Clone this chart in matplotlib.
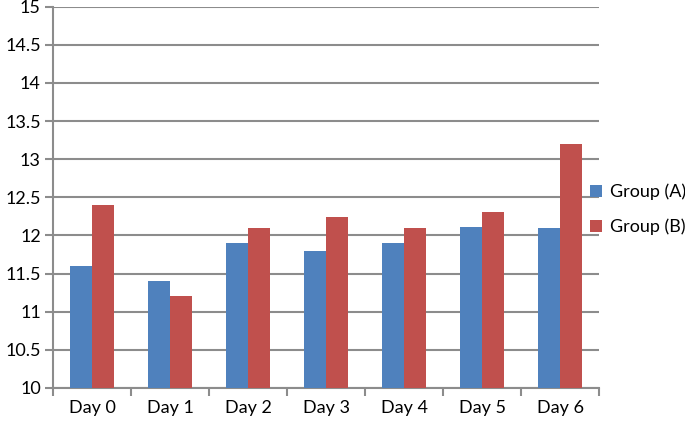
import numpy as np
import matplotlib.pyplot as plt

days = ["Day 0", "Day 1", "Day 2", "Day 3", "Day 4", "Day 5", "Day 6"]
group_a = [11.6, 11.4, 11.9, 11.8, 11.9, 12.11, 12.1]
group_b = [12.4, 11.2, 12.1, 12.24, 12.1, 12.31, 13.2]
y_ticks = [10, 10.5, 11, 11.5, 12, 12.5, 13, 13.5, 14, 14.5, 15]
y_tick_labels = ["10", "10.5", "11", "11.5", "12", "12.5", "13", "13.5", "14", "14.5", "15"]

plt.rcParams['font.family'] = ['Lato', 'DejaVu Sans']

fig = plt.figure(figsize=(6.85, 4.3), dpi=100)
ax = fig.add_axes([0.0778, 0.0977, 0.7967, 0.8867])

x = np.arange(len(days))
w = 0.285
ax.bar(x - w / 2, group_a, w, bottom=0, color="#4F81BD", label="Group (A)", zorder=3)
ax.bar(x + w / 2, group_b, w, bottom=0, color="#C0504D", label="Group (B)", zorder=3)

ax.set_xlim(-0.5, len(days) - 0.5)
ax.set_ylim(10, 15)
ax.set_yticks(y_ticks)
ax.set_yticklabels(y_tick_labels)
ax.set_xticks(x)
ax.set_xticklabels(days)
ax.set_xticks(np.arange(-0.5, len(days)), minor=True)

grid_col = "#8C8C8C"
ax.yaxis.grid(True, color=grid_col, linewidth=1.5, zorder=0)
for s in ["top", "right"]:
    ax.spines[s].set_visible(False)
for s in ["left", "bottom"]:
    ax.spines[s].set_color(grid_col)
    ax.spines[s].set_linewidth(1.5)

ax.tick_params(axis="y", length=6, width=1.5, color=grid_col, labelsize=13, pad=3)
ax.tick_params(axis="x", which="major", length=0, labelsize=13, pad=9)
ax.tick_params(axis="x", which="minor", length=6, width=1.5, color=grid_col)

ax.legend(loc="center left", bbox_to_anchor=(0.862, 0.513), bbox_transform=fig.transFigure,
          frameon=False, fontsize=13, handlelength=0.65, handleheight=0.65,
          handletextpad=0.45, labelspacing=1.0, borderpad=0, borderaxespad=0)

fig.savefig("out.png", dpi=100)
